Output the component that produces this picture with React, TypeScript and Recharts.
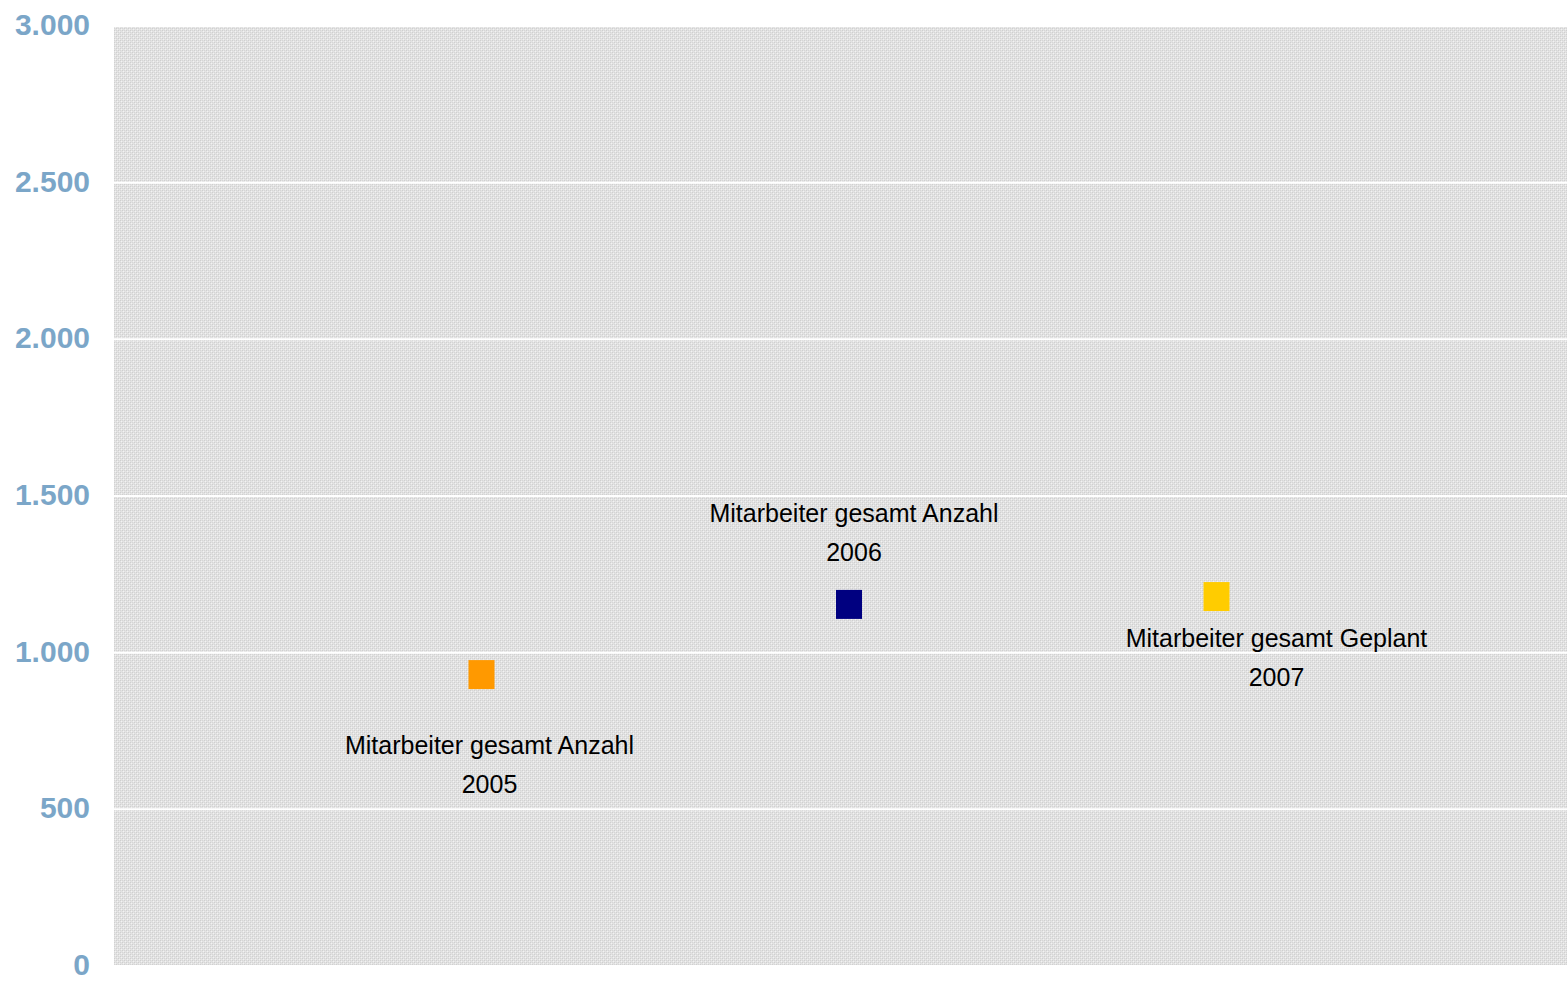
import React from 'react';
import { ScatterChart, Scatter, XAxis, YAxis, CartesianGrid } from 'recharts';

const seriesNames = ['Mitarbeiter gesamt Anzahl', 'Mitarbeiter gesamt Anzahl', 'Mitarbeiter gesamt Geplant'];
const years = ['2005', '2006', '2007'];
const positions = [1, 2, 3];
const values = [930, 1154, 1179];
const colors = ['#FF9900', '#000080', '#FFCC00'];
const yTicks = [0, 500, 1000, 1500, 2000, 2500, 3000];

// label placement (style): dx, dy of first line centre relative to marker centre
const labelOffsets = [
  { dx: 8, dy: 70 },
  { dx: 5, dy: -91 },
  { dx: 60, dy: 41 },
];

const data = positions.map((x, i) => ({
  x,
  y: values[i],
  name: seriesNames[i],
  year: years[i],
  color: colors[i],
  i,
}));

const fmt = (v: number) => String(v).replace(/\B(?=(\d{3})+(?!\d))/g, '.');

const PointShape = (props: any) => {
  const { cx, cy, payload } = props;
  const off = labelOffsets[payload.i];
  const w = 26;
  const h = 29;
  const font = { fontFamily: '"Liberation Sans", Arial, sans-serif', fontSize: 25, fill: '#000' };
  return (
    <g>
      <rect x={cx - w / 2} y={cy - h / 2} width={w} height={h} fill={payload.color} />
      <text x={cx + off.dx} y={cy + off.dy} textAnchor="middle" dominantBaseline="central" {...font}>
        {payload.name}
      </text>
      <text x={cx + off.dx} y={cy + off.dy + 39} textAnchor="middle" dominantBaseline="central" {...font}>
        {payload.year}
      </text>
    </g>
  );
};

const YTick = (props: any) => {
  const { x, y, payload } = props;
  return (
    <text
      x={x}
      y={y}
      dy={-1.5}
      textAnchor="end"
      dominantBaseline="central"
      fill="#7BA6C8"
      fontSize={30}
      fontWeight="bold"
      fontFamily={'"Liberation Sans", Arial, sans-serif'}
    >
      {fmt(payload.value)}
    </text>
  );
};

export default function App() {
  return (
    <div
      style={{
        position: 'absolute',
        left: 0,
        top: 0,
        width: 1567,
        height: 982,
        overflow: 'hidden',
        background: '#fff',
      }}
    >
      <ScatterChart width={1584} height={982} margin={{ top: 26, right: 0, bottom: 16, left: 0 }}>
        <defs>
          <pattern id="hatch" width="4" height="4" patternUnits="userSpaceOnUse">
            <rect width="4" height="4" fill="#e2e2e2" />
            <rect x="0" y="0" width="1" height="1" fill="#cfcfcf" />
            <rect x="2" y="2" width="1" height="1" fill="#cfcfcf" />
            <rect x="2" y="0" width="1" height="1" fill="#d6d6d6" />
            <rect x="0" y="2" width="1" height="1" fill="#d6d6d6" />
            <rect x="1" y="1" width="1" height="1" fill="#f2f2f2" />
            <rect x="3" y="3" width="1" height="1" fill="#f2f2f2" />
          </pattern>
        </defs>
        <CartesianGrid
          vertical={false}
          stroke="#ffffff"
          strokeWidth={2}
          fill="url(#hatch)"
          fillOpacity={1}
        />
        <XAxis type="number" dataKey="x" domain={[0, 4]} hide />
        <YAxis
          type="number"
          dataKey="y"
          domain={[0, 3000]}
          ticks={yTicks}
          interval={0}
          width={114}
          axisLine={false}
          tickLine={false}
          tickSize={6}
          tickMargin={18}
          tick={<YTick />}
        />
        <Scatter data={data} shape={PointShape} isAnimationActive={false} />
      </ScatterChart>
    </div>
  );
}
